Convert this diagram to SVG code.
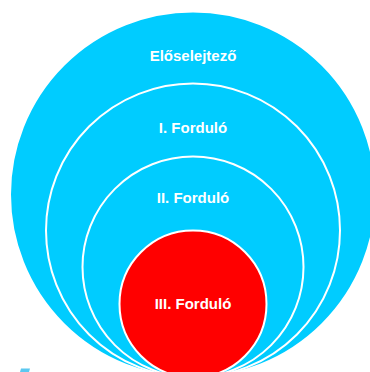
<svg xmlns="http://www.w3.org/2000/svg" width="370" height="372" viewBox="0 0 370 372">
<style>
.ring{fill:#00CCFF;stroke:#FFFFFF;stroke-width:2}
.core{fill:#FF0000;stroke:#FFFFFF;stroke-width:2}
.lbl{font-family:"Liberation Sans",Arial,sans-serif;font-weight:bold;font-size:15px;fill:#FFFFFF;text-anchor:middle}
</style>
<rect width="370" height="372" fill="#FFFFFF"/>
<g id="node-eloselejtezo">
<circle class="ring" cx="193" cy="194.5" r="183" stroke="none"/>
<text class="lbl" x="193" y="61">Előselejtező</text>
</g>
<g id="node-fordulo1">
<circle class="ring" cx="193" cy="230.5" r="147"/>
<text class="lbl" x="193" y="132.5">I. Forduló</text>
</g>
<g id="node-fordulo2">
<circle class="ring" cx="193" cy="267" r="110.5"/>
<text class="lbl" x="193" y="203">II. Forduló</text>
</g>
<g id="node-fordulo3">
<circle class="core" cx="193" cy="304" r="73.5"/>
<text class="lbl" x="193" y="309">III. Forduló</text>
</g>
<g id="connectors"></g>
<path d="M21,368.5 L30,368.5 L29,372 L20,372 Z" fill="#5BC8F0"/>
</svg>
